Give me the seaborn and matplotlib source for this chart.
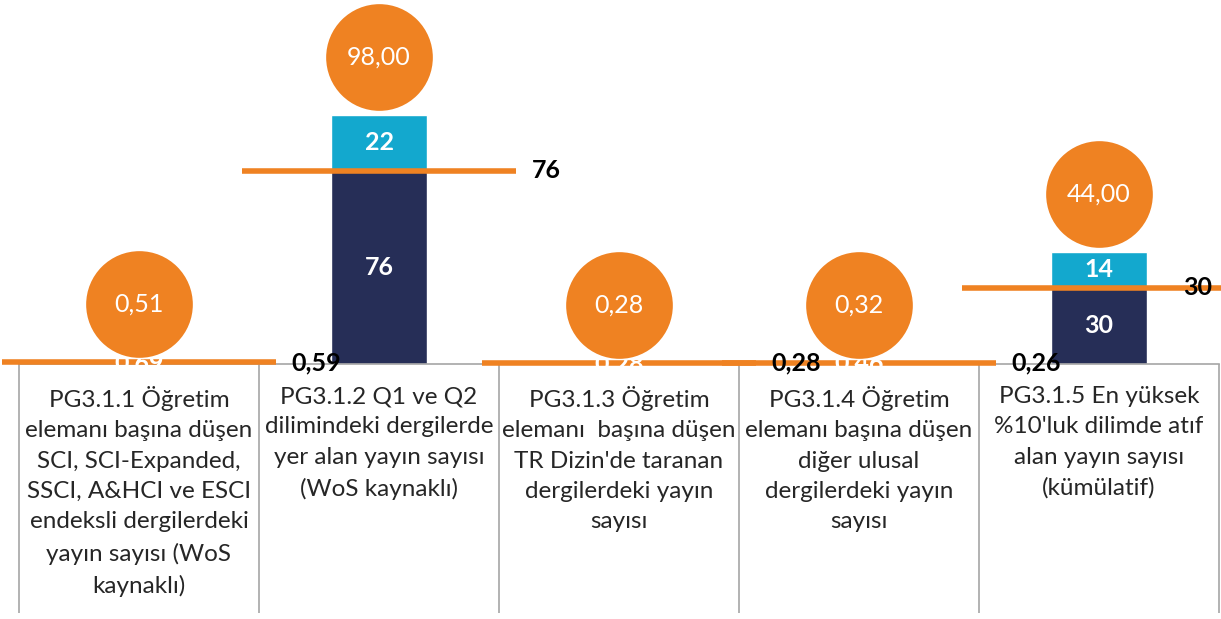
import matplotlib
matplotlib.use("Agg")
import matplotlib.pyplot as plt
import matplotlib.transforms as mtransforms
import seaborn as sns
import pandas as pd

# --- data ---
codes = ["PG3.1.1", "PG3.1.2", "PG3.1.3", "PG3.1.4", "PG3.1.5"]
category_labels = [
    "PG3.1.1 Öğretim\nelemanı başına düşen\nSCI, SCI-Expanded,\nSSCI, A&HCI ve ESCI\nendeksli dergilerdeki\nyayın sayısı (WoS\nkaynaklı)",
    "PG3.1.2 Q1 ve Q2\ndilimindeki dergilerde\nyer alan yayın sayısı\n(WoS kaynaklı)",
    "PG3.1.3 Öğretim\nelemanı  başına düşen\nTR Dizin'de taranan\ndergilerdeki yayın\nsayısı",
    "PG3.1.4 Öğretim\nelemanı başına düşen\ndiğer ulusal\ndergilerdeki yayın\nsayısı",
    "PG3.1.5 En yüksek\n%10'luk dilimde atıf\nalan yayın sayısı\n(kümülatif)",
]
dark_values = [0.69, 76, 0.28, 0.46, 30]
light_values = [0, 22, 0, 0, 14]
target_values = [0.59, 76, 0.28, 0.26, 30]
circle_values = [0.51, 98.00, 0.28, 0.32, 44.00]

NAVY = "#262E57"
LIGHT = "#13A8CE"
ORANGE = "#EF8222"
GRID = "#A6A6A6"


def fmt(v, always_dec=False):
    if always_dec or v < 1:
        return f"{v:.2f}".replace(".", ",")
    return f"{v:.0f}"


sns.set_theme(style="white")
plt.rcParams["font.family"] = ["Lato", "DejaVu Sans"]

fig = plt.figure(figsize=(12.21, 6.19), dpi=100)
ax = fig.add_axes([19 / 1221, 255 / 619, 1200 / 1221, 356 / 619])

df = pd.DataFrame({
    "code": codes,
    "dark": dark_values,
    "total": [d + l for d, l in zip(dark_values, light_values)],
})

sns.barplot(data=df, x="code", y="total", color=LIGHT, saturation=1,
            width=0.4, ax=ax, zorder=2)
sns.barplot(data=df, x="code", y="dark", color=NAVY, saturation=1,
            width=0.4, ax=ax, zorder=2)

ax.set_xlim(-0.5, 4.5)
ax.set_ylim(0, 140)
ax.set_xticks([])
ax.set_yticks([])
ax.set_xlabel("")
ax.set_ylabel("")
for s in ["top", "left", "right"]:
    ax.spines[s].set_visible(False)
ax.spines["bottom"].set_color(GRID)
ax.spines["bottom"].set_linewidth(1.2)

# target lines
for i, t in enumerate(target_values):
    ax.hlines(t, i - 0.57, i + 0.57, color=ORANGE, lw=4, zorder=3, clip_on=False)
    lx = min(i + 0.635, 4.35)
    ax.text(lx, t, fmt(t), ha="left", va="center", fontsize=18,
            fontweight="bold", color="black", zorder=5)

# segment labels
for i, (d, l) in enumerate(zip(dark_values, light_values)):
    ax.text(i, d / 2, fmt(d), ha="center", va="center", fontsize=18,
            fontweight="bold", color="white", zorder=4)
    if l > 0:
        ax.text(i, d + l / 2, fmt(l), ha="center", va="center", fontsize=18,
                fontweight="bold", color="white", zorder=4)

# circle bubbles above stacks
up = mtransforms.offset_copy(ax.transData, fig=fig, x=0, y=58, units="dots")
for i, (tot, c) in enumerate(zip(df["total"], circle_values)):
    ax.scatter([i], [tot], s=5900, color=ORANGE, transform=up, zorder=6,
               clip_on=False, linewidths=0)
    ax.text(i, tot, fmt(c, always_dec=True), transform=up, ha="center",
            va="center", fontsize=18, color="white", zorder=7)

# category table below
trans = mtransforms.blended_transform_factory(ax.transData, ax.transAxes)
for x in [-0.5, 0.5, 1.5, 2.5, 3.5, 4.5]:
    ax.vlines(x, 0, -0.70, transform=trans, color=GRID, lw=1.2, clip_on=False)
for i, lab in enumerate(category_labels):
    ax.text(i, -0.062, lab, transform=trans, ha="center", va="top",
            fontsize=17.5, color="#262626", linespacing=1.55)

fig.savefig("out.png", dpi=100)
